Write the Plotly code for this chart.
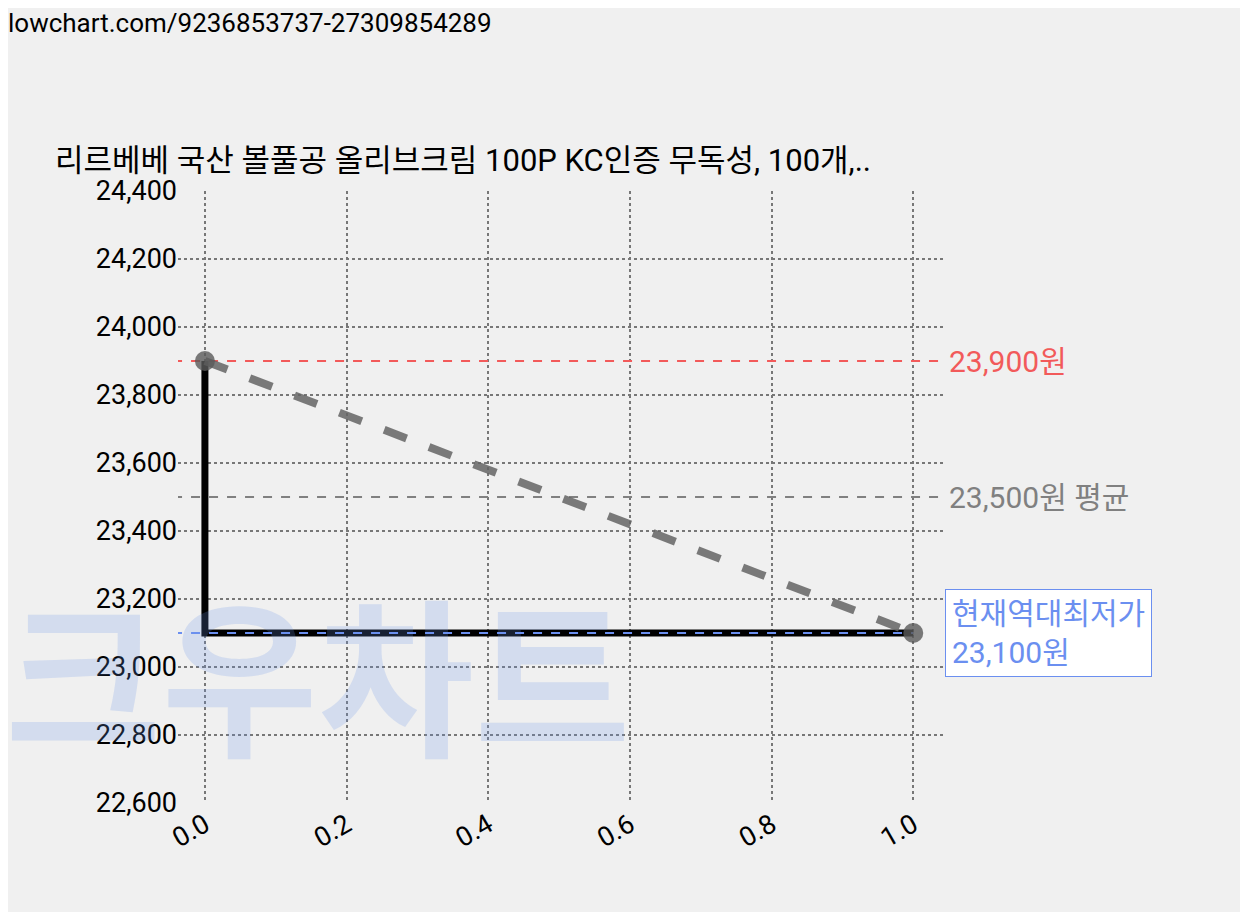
import plotly.graph_objects as go

x_vals = [0, 1]
prices = [23900, 23100]
max_price = 23900
avg_price = 23500
min_price = 23100
title = "리르베베 국산 볼풀공 올리브크림 100P KC인증 무독성, 100개,.."
url = "lowchart.com/9236853737-27309854289"

fig = go.Figure()
# step line (black)
fig.add_trace(go.Scatter(x=[x_vals[0], x_vals[0], x_vals[1]], y=[prices[0], prices[1], prices[1]],
                         mode="lines", line=dict(color="black", width=7), hoverinfo="skip"))
# reference lines
fig.add_trace(go.Scatter(x=[-0.045, 1.04], y=[max_price]*2, mode="lines",
                         line=dict(color="#f25a5a", width=2, dash="dash")))
fig.add_trace(go.Scatter(x=[-0.045, 1.04], y=[avg_price]*2, mode="lines",
                         line=dict(color="#808080", width=2, dash="dash")))
fig.add_trace(go.Scatter(x=[-0.045, 1.0], y=[min_price]*2, mode="lines",
                         line=dict(color="#6b8ff0", width=2, dash="dash")))
# dashed trend
fig.add_trace(go.Scatter(x=x_vals, y=prices, mode="lines+markers",
                         line=dict(color="rgba(100,100,100,0.85)", width=8, dash="dash"),
                         marker=dict(size=20, color="rgba(90,90,90,0.8)")))

fig.add_annotation(x=1, y=max_price, xref="paper", yref="y", text="23,900원", showarrow=False,
                   xanchor="left", xshift=4, font=dict(size=30, color="#f25a5a"))
fig.add_annotation(x=1, y=avg_price, xref="paper", yref="y", text="23,500원 평균", showarrow=False,
                   xanchor="left", xshift=4, font=dict(size=30, color="#808080"))
fig.add_annotation(x=1, y=min_price, xref="paper", yref="y", text="현재역대최저가<br>23,100원",
                   showarrow=False, xanchor="left", align="left", xshift=2,
                   font=dict(size=30, color="#6b8ff0"), bordercolor="#6b8ff0", borderwidth=1,
                   borderpad=6, bgcolor="white")
fig.add_annotation(x=0.0, y=0.0, xref="paper", yref="paper", text="<b>크우차트</b>",
                   showarrow=False, xanchor="left", yanchor="bottom", xshift=-175, yshift=15,
                   font=dict(size=170, color="rgba(110,150,230,0.22)"))
fig.add_annotation(x=0, y=1, xref="paper", yref="paper", text=url, showarrow=False,
                   xanchor="left", yanchor="top", xshift=-172, yshift=185, font=dict(size=26, color="black"))
fig.add_annotation(x=0, y=1, xref="paper", yref="paper", text=title, showarrow=False,
                   xanchor="left", yanchor="bottom", xshift=-125, yshift=10, font=dict(size=31, color="black"))

grid = dict(showgrid=True, gridcolor="#777", gridwidth=2, griddash="dot", zeroline=False,
            showline=False, ticks="")
fig.update_xaxes(range=[-0.038, 1.042], tickvals=[0, 0.2, 0.4, 0.6, 0.8, 1.0],
                 ticktext=["0.0", "0.2", "0.4", "0.6", "0.8", "1.0"], tickangle=-30,
                 tickfont=dict(size=27), **grid)
fig.update_yaxes(range=[22600, 24400], dtick=200, tickformat=",", tickfont=dict(size=27), **grid)
fig.update_layout(width=1248, height=912, margin=dict(l=170, r=313, t=183, b=117),
                  paper_bgcolor="#f0f0f0", plot_bgcolor="#f0f0f0", showlegend=False,
                  font=dict(family="Roboto, Noto Sans CJK KR, sans-serif", color="black"))
fig.write_html("out.html")
